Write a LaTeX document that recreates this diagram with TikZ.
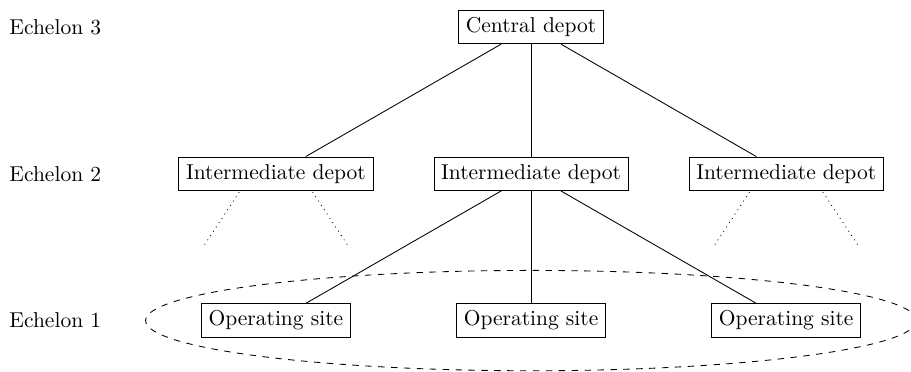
\documentclass[tikz,border=0pt]{standalone}
\usepackage{tikz}
\usetikzlibrary{positioning}

\begin{document}
\begin{tikzpicture}[
    node distance=2.4cm and 4.17cm, on grid,
    block/.style ={rectangle, draw=black, fill=white, text centered},
    level/.style ={anchor=west},
    line/.style ={draw},
    dots/.style ={draw, dotted},
    zone/.style ={draw, dashed},
]
\useasboundingbox (0,0) rectangle (14.89,-6.07);

% Nodes
\node [block] (central) at (8.68,-0.44) {Central depot};
\node [block, below=of central] (inter2) {Intermediate depot};
\node [block, left=of inter2] (inter1) {Intermediate depot};
\node [block, right=of inter2] (inter3) {Intermediate depot};
\node [block, below=of inter2] (site2) {Operating site};
\node [block, left=of site2] (site1) {Operating site};
\node [block, right=of site2] (site3) {Operating site};

% Echelon labels
\node [level] (ech3) at (0.03,0 |- central) {Echelon 3};
\node [level] (ech2) at (0.03,0 |- inter1) {Echelon 2};
\node [level] (ech1) at (0.03,0 |- site1) {Echelon 1};

% Dotted branches
\coordinate [below left=0.3cm and 0.6cm of inter1] (top1a);
\coordinate [below right=0.3cm and 0.6cm of inter1] (top1b);
\coordinate [below left=1.18cm and 1.18cm of inter1] (end1a);
\coordinate [below right=1.18cm and 1.18cm of inter1] (end1b);
\coordinate [below left=0.3cm and 0.6cm of inter3] (top3a);
\coordinate [below right=0.3cm and 0.6cm of inter3] (top3b);
\coordinate [below left=1.18cm and 1.18cm of inter3] (end3a);
\coordinate [below right=1.18cm and 1.18cm of inter3] (end3b);

% Lines
\path [line] (central) -- (inter1);
\path [line] (central) -- (inter2);
\path [line] (central) -- (inter3);
\path [line] (inter2) -- (site1);
\path [line] (inter2) -- (site2);
\path [line] (inter2) -- (site3);

\path [dots] (top1a) -- (end1a);
\path [dots] (top1b) -- (end1b);
\path [dots] (top3a) -- (end3a);
\path [dots] (top3b) -- (end3b);

% Echelon 1 zone
\path [zone] (site2) ellipse [x radius=6.3cm, y radius=0.82cm];

% redraw sites above the zone
\node [block] at (site1) {Operating site};
\node [block] at (site2) {Operating site};
\node [block] at (site3) {Operating site};

\end{tikzpicture}
\end{document}
